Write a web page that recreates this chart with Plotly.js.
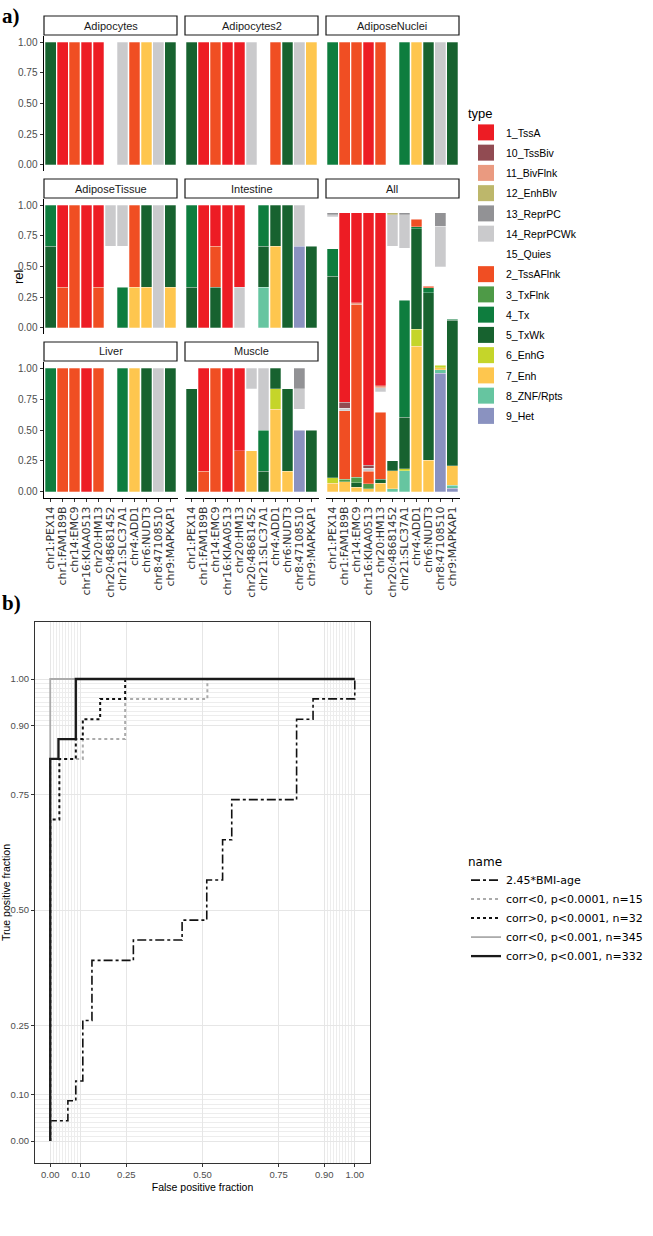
<!DOCTYPE html>
<html>
<head>
<meta charset="utf-8">
<script src="https://cdn.plot.ly/plotly-3.0.1.min.js"></script>
<style>
  html, body { margin: 0; padding: 0; background: #fff; }
  #chart { width: 653px; height: 1236px; }
</style>
</head>
<body>
<div id="chart"></div>
<script>
// ---- data ---------------------------------------------------------------
const CATEGORIES = ["chr1:PEX14", "chr1:FAM189B", "chr14:EMC9", "chr16:KIAA0513", "chr20:HM13",
  "chr20:48681452", "chr21:SLC37A1", "chr4:ADD1", "chr6:NUDT3", "chr8:47108510", "chr9:MAPKAP1"];

const TYPES = ["1_TssA", "10_TssBiv", "11_BivFlnk", "12_EnhBlv", "13_ReprPC", "14_ReprPCWk", "15_Quies",
  "2_TssAFlnk", "3_TxFlnk", "4_Tx", "5_TxWk", "6_EnhG", "7_Enh", "8_ZNF/Rpts", "9_Het"];
const TYPE_COLORS = ["#ED1C24", "#914B52", "#EA9A80", "#BDB76B", "#929295", "#CACACC", "#FFFFFF",
  "#F04E23", "#4E9A47", "#0E7D3E", "#17622F", "#C5D52A", "#FEC64E", "#66C5A0", "#8A92C0"];

const PANELS = ["Adipocytes", "Adipocytes2", "AdiposeNuclei", "AdiposeTissue", "Intestine", "All", "Liver", "Muscle"];

// one entry per category: chromatin state -> share of the bar
const adipocytes = [
  { "5_TxWk": 1 }, { "1_TssA": 1 }, { "2_TssAFlnk": 1 }, { "1_TssA": 1 }, { "1_TssA": 1 },
  { "15_Quies": 1 }, { "14_ReprPCWk": 1 }, { "2_TssAFlnk": 1 }, { "7_Enh": 1 }, { "14_ReprPCWk": 1 }, { "5_TxWk": 1 },
];
const adipocytes2 = [
  { "5_TxWk": 1 }, { "1_TssA": 1 }, { "2_TssAFlnk": 1 }, { "1_TssA": 1 }, { "1_TssA": 1 },
  { "14_ReprPCWk": 1 }, { "15_Quies": 1 }, { "2_TssAFlnk": 1 }, { "5_TxWk": 1 }, { "14_ReprPCWk": 1 }, { "7_Enh": 1 },
];
const adiposeNuclei = [
  { "4_Tx": 1 }, { "2_TssAFlnk": 1 }, { "2_TssAFlnk": 1 }, { "1_TssA": 1 }, { "2_TssAFlnk": 1 },
  { "15_Quies": 1 }, { "4_Tx": 1 }, { "7_Enh": 1 }, { "5_TxWk": 1 }, { "14_ReprPCWk": 1 }, { "5_TxWk": 1 },
];
const adiposeTissue = [
  { "4_Tx": 0.333, "5_TxWk": 0.667 },
  { "1_TssA": 0.667, "2_TssAFlnk": 0.333 },
  { "2_TssAFlnk": 1 },
  { "1_TssA": 1 },
  { "1_TssA": 0.667, "2_TssAFlnk": 0.333 },
  { "14_ReprPCWk": 0.333, "15_Quies": 0.667 },
  { "14_ReprPCWk": 0.333, "15_Quies": 0.333, "4_Tx": 0.333 },
  { "2_TssAFlnk": 0.667, "7_Enh": 0.333 },
  { "5_TxWk": 0.667, "7_Enh": 0.333 },
  { "14_ReprPCWk": 1 },
  { "5_TxWk": 0.667, "7_Enh": 0.333 },
];
const intestine = [
  { "4_Tx": 0.667, "5_TxWk": 0.333 },
  { "1_TssA": 1 },
  { "1_TssA": 0.333, "2_TssAFlnk": 0.333, "5_TxWk": 0.333 },
  { "1_TssA": 1 },
  { "1_TssA": 0.667, "14_ReprPCWk": 0.333 },
  { "15_Quies": 1 },
  { "4_Tx": 0.333, "5_TxWk": 0.333, "8_ZNF/Rpts": 0.333 },
  { "5_TxWk": 0.333, "7_Enh": 0.667 },
  { "5_TxWk": 1 },
  { "14_ReprPCWk": 0.333, "9_Het": 0.667 },
  { "15_Quies": 0.333, "5_TxWk": 0.667 },
];
const all = [
  { "13_ReprPC": 0.007, "14_ReprPCWk": 0.007, "15_Quies": 0.114, "4_Tx": 0.10, "5_TxWk": 0.722, "6_EnhG": 0.02, "7_Enh": 0.03 },
  { "1_TssA": 0.679, "10_TssBiv": 0.022, "14_ReprPCWk": 0.008, "2_TssAFlnk": 0.246, "3_TxFlnk": 0.01, "7_Enh": 0.035 },
  { "1_TssA": 0.323, "11_BivFlnk": 0.006, "2_TssAFlnk": 0.62, "3_TxFlnk": 0.02, "5_TxWk": 0.015, "7_Enh": 0.016 },
  { "1_TssA": 0.905, "10_TssBiv": 0.012, "14_ReprPCWk": 0.01, "2_TssAFlnk": 0.045, "3_TxFlnk": 0.018, "7_Enh": 0.01 },
  { "1_TssA": 0.621, "11_BivFlnk": 0.007, "14_ReprPCWk": 0.014, "15_Quies": 0.074, "2_TssAFlnk": 0.239, "5_TxWk": 0.015, "7_Enh": 0.03 },
  { "12_EnhBlv": 0.006, "14_ReprPCWk": 0.113, "15_Quies": 0.77, "5_TxWk": 0.036, "7_Enh": 0.065, "8_ZNF/Rpts": 0.01 },
  { "13_ReprPC": 0.006, "14_ReprPCWk": 0.121, "15_Quies": 0.187, "4_Tx": 0.419, "5_TxWk": 0.185, "6_EnhG": 0.008, "8_ZNF/Rpts": 0.074 },
  { "15_Quies": 0.023, "2_TssAFlnk": 0.026, "4_Tx": 0.007, "5_TxWk": 0.362, "6_EnhG": 0.06, "7_Enh": 0.522 },
  { "15_Quies": 0.263, "2_TssAFlnk": 0.005, "4_Tx": 0.019, "5_TxWk": 0.601, "7_Enh": 0.112 },
  { "13_ReprPC": 0.047, "14_ReprPCWk": 0.146, "15_Quies": 0.354, "6_EnhG": 0.008, "7_Enh": 0.007, "8_ZNF/Rpts": 0.014, "9_Het": 0.424 },
  { "15_Quies": 0.381, "4_Tx": 0.005, "5_TxWk": 0.522, "7_Enh": 0.07, "8_ZNF/Rpts": 0.01, "9_Het": 0.012 },
];
const liver = [
  { "4_Tx": 1 }, { "2_TssAFlnk": 1 }, { "2_TssAFlnk": 1 }, { "1_TssA": 1 }, { "2_TssAFlnk": 1 },
  { "15_Quies": 1 }, { "4_Tx": 1 }, { "7_Enh": 1 }, { "5_TxWk": 1 }, { "14_ReprPCWk": 1 }, { "5_TxWk": 1 },
];
const muscle = [
  { "15_Quies": 0.167, "5_TxWk": 0.833 },
  { "1_TssA": 0.833, "2_TssAFlnk": 0.167 },
  { "2_TssAFlnk": 1 },
  { "1_TssA": 1 },
  { "1_TssA": 0.667, "2_TssAFlnk": 0.333 },
  { "14_ReprPCWk": 0.167, "15_Quies": 0.5, "7_Enh": 0.333 },
  { "14_ReprPCWk": 0.5, "4_Tx": 0.333, "5_TxWk": 0.167 },
  { "5_TxWk": 0.167, "6_EnhG": 0.167, "7_Enh": 0.666 },
  { "15_Quies": 0.167, "5_TxWk": 0.667, "7_Enh": 0.166 },
  { "13_ReprPC": 0.167, "14_ReprPCWk": 0.167, "15_Quies": 0.166, "9_Het": 0.5 },
  { "15_Quies": 0.5, "5_TxWk": 0.5 },
];
const PANEL_DATA = [adipocytes, adipocytes2, adiposeNuclei, adiposeTissue, intestine, all, liver, muscle];

// ROC step corners (false positive fraction, true positive fraction)
const ROC_NAMES = ["2.45*BMI-age", "corr<0, p<0.0001, n=15", "corr>0, p<0.0001, n=32",
  "corr<0, p<0.001, n=345", "corr>0, p<0.001, n=332"];
const bmiFpf = [0, 0.058, 0.084, 0.107, 0.137, 0.273, 0.433, 0.514, 0.566, 0.596, 0.809, 0.863, 1, 1];
const bmiTpf = [0, 0.044, 0.087, 0.130, 0.261, 0.391, 0.435, 0.478, 0.565, 0.652, 0.739, 0.913, 0.957, 1];
const negStrictFpf = [0, 0.107, 0.246, 0.516, 1];
const negStrictTpf = [0, 0.827, 0.870, 0.957, 1];
const posStrictFpf = [0, 0.03, 0.084, 0.107, 0.164, 0.246, 1];
const posStrictTpf = [0, 0.696, 0.827, 0.870, 0.913, 0.957, 1];
const negFpf = [0, 1];
const negTpf = [0, 1];
const posFpf = [0, 0.027, 0.084, 1];
const posTpf = [0, 0.827, 0.870, 1];

const ROC_TICKS = [0, 0.1, 0.25, 0.5, 0.75, 0.9, 1];

// ---- layout helpers (pixel boxes -> paper) ---------------------------------
const W = 653, H = 1236;
const px = v => v / W;
const py = v => 1 - v / H;

const COLS = [[43.5, 177.5], [184.5, 318.5], [325.5, 459.5]];
const ROWS = [[36, 171], [199, 334], [362, 498]];
// panel -> [col, row top, row bottom]
const PANEL_POS = [[0, 0, 0], [1, 0, 0], [2, 0, 0], [0, 1, 1], [1, 1, 1], [2, 1, 2], [0, 2, 2], [1, 2, 2]];
const BOTTOM_ROW = [false, false, false, false, false, true, true, true];

const FONT = "Liberation Sans, Arial, sans-serif";
const AX_COLOR = "#333333";
const TXT_COLOR = "#4D4D4D";

const traces = [];
const layout = {
  width: W, height: H,
  margin: { l: 0, r: 0, t: 0, b: 0 },
  paper_bgcolor: "#fff", plot_bgcolor: "rgba(0,0,0,0)",
  font: { family: FONT, color: "#000", size: 11 },
  barmode: "stack", bargap: 0.1,
  shapes: [], annotations: [],
  legend: {
    x: px(466), y: py(101), xanchor: "left", yanchor: "top",
    traceorder: "grouped", tracegroupgap: 1.25,
    title: { text: "type", font: { family: FONT, size: 13 } },
    font: { family: FONT, size: 10.5 }, bgcolor: "rgba(0,0,0,0)",
  },
  legend2: {
    x: px(466), y: py(850), xanchor: "left", yanchor: "top",
    title: { text: "name", font: { family: "DejaVu Sans, sans-serif", size: 12 } },
    font: { family: "DejaVu Sans, sans-serif", size: 11 }, itemwidth: 30, bgcolor: "rgba(0,0,0,0)",
  },
};

// legend keys for the fill scale (bigger squares than plotly's bar swatch), in level order
TYPES.forEach((type, i) => {
  traces.push({
    type: "scatter", mode: "markers", x: [null], y: [null], xaxis: "x6", yaxis: "y6",
    name: type, legendgroup: type, legend: "legend", hoverinfo: "skip",
    marker: { symbol: "square", size: 16, color: TYPE_COLORS[i], line: { width: 0 } },
  });
});

// stacked bars: ggplot puts the first level on top, plotly stacks the first trace at the bottom
TYPES.slice().reverse().forEach(type => {
  const color = TYPE_COLORS[TYPES.indexOf(type)];
  PANELS.forEach((panel, p) => {
    const sfx = p ? String(p + 1) : "";
    traces.push({
      type: "bar", x: CATEGORIES,
      y: PANEL_DATA[p].map(seg => (seg[type] !== undefined ? seg[type] : null)),
      xaxis: "x" + sfx, yaxis: "y" + sfx,
      name: type, legendgroup: type, showlegend: false,
      marker: { color, line: { color: "rgba(255,255,255,0.55)", width: 0.5 } },
      hovertemplate: "%{x}<br>" + type + ": %{y:.3f}<extra>" + panel + "</extra>",
    });
  });
});

PANELS.forEach((panel, p) => {
  const sfx = p ? String(p + 1) : "";
  const [col, rTop, rBot] = PANEL_POS[p];
  const x0 = COLS[col][0], x1 = COLS[col][1];
  const y0 = ROWS[rTop][0], y1 = ROWS[rBot][1];
  const bottom = BOTTOM_ROW[p];
  const left = col === 0;
  layout["xaxis" + sfx] = {
    domain: [px(x0), px(x1)], anchor: "y" + sfx,
    type: "category", categoryorder: "array", categoryarray: CATEGORIES, range: [-0.6, 10.6],
    tickmode: "linear", tick0: 0, dtick: 1,
    showgrid: false, zeroline: false,
    showline: bottom, linecolor: "#000", linewidth: 1,
    showticklabels: bottom, tickangle: -90,
    ticks: bottom ? "outside" : "", ticklen: 3, tickcolor: AX_COLOR,
    tickfont: { family: "DejaVu Sans, sans-serif", size: 11, color: AX_COLOR },
  };
  layout["yaxis" + sfx] = {
    domain: [py(y1), py(y0)], anchor: "x" + sfx,
    range: panel === "All" ? [-0.023, 1.05] : [-0.05, 1.05],
    showgrid: false, zeroline: false,
    showline: left, linecolor: "#000", linewidth: 1,
    showticklabels: left, tickvals: [0, 0.25, 0.5, 0.75, 1], tickformat: ".2f",
    ticks: left ? "outside" : "", ticklen: 3, tickcolor: AX_COLOR,
    tickfont: { family: FONT, size: 10, color: TXT_COLOR },
  };
  // facet strip
  const sTop = y0 - 20, sBot = y0 - 1;
  layout.shapes.push({
    type: "rect", xref: "paper", yref: "paper",
    x0: px(x0 + 0.5), x1: px(x1 - 0.5), y0: py(sBot), y1: py(sTop),
    line: { color: "#1a1a1a", width: 1.2 }, fillcolor: "#fff",
  });
  layout.annotations.push({
    xref: "paper", yref: "paper", x: px((x0 + x1) / 2), y: py((sTop + sBot) / 2),
    text: panel, showarrow: false, xanchor: "center", yanchor: "middle",
    font: { family: FONT, size: 11, color: "#1a1a1a" },
  });
});

// ---- ROC panel ------------------------------------------------------------
const ROC_SERIES = [
  [bmiFpf, bmiTpf, { color: "#111", width: 1.6, dash: "dashdot" }],
  [negStrictFpf, negStrictTpf, { color: "#ababab", width: 2, dash: "dot" }],
  [posStrictFpf, posStrictTpf, { color: "#111", width: 2, dash: "dot" }],
  [negFpf, negTpf, { color: "#ababab", width: 1.8 }],
  [posFpf, posTpf, { color: "#1a1a1a", width: 2.3 }],
];
ROC_SERIES.forEach(([fx, ty, line], i) => {
  traces.push({
    type: "scatter", mode: "lines", x: fx, y: ty, xaxis: "x9", yaxis: "y9",
    name: ROC_NAMES[i], legend: "legend2",
    line: Object.assign({ shape: "vh" }, line),
  });
});

const minorVals = [];
for (let k = 1; k < 10; k++) { minorVals.push(k / 100); minorVals.push(0.9 + k / 100); }
const rocAxis = (domain, anchor, range) => ({
  domain, anchor, range,
  tickvals: ROC_TICKS, tickformat: ".2f",
  ticks: "outside", ticklen: 3, tickcolor: AX_COLOR,
  tickfont: { family: FONT, size: 9.5, color: TXT_COLOR },
  showline: true, mirror: true, linecolor: AX_COLOR, linewidth: 1,
  showgrid: true, gridcolor: "#E6E6E6", gridwidth: 1, zeroline: false,
  minor: { tickvals: minorVals, showgrid: true, gridcolor: "#EDEDED", gridwidth: 0.6, ticks: "" },
});
layout.xaxis9 = Object.assign(rocAxis([px(35), px(370)], "y9", [-0.05, 1.05]), {
  title: { text: "False positive fraction", font: { family: FONT, size: 10.5, color: "#000" }, standoff: 4 },
});
layout.yaxis9 = Object.assign(rocAxis([py(1163), py(622)], "x9", [-0.0476, 1.1234]), {
  title: { text: "True positive fraction", font: { family: FONT, size: 10.5, color: "#000" }, standoff: 6 },
});

// labels
layout.annotations.push(
  { xref: "paper", yref: "paper", x: px(9), y: py(267), text: "rel", textangle: -90, showarrow: false,
    font: { family: FONT, size: 13 } },
  { xref: "paper", yref: "paper", x: 0, y: py(2), xanchor: "left", yanchor: "top", text: "<b>a)</b>",
    showarrow: false, font: { family: "Liberation Serif, serif", size: 21, color: "#000" } },
  { xref: "paper", yref: "paper", x: 0, y: py(589), xanchor: "left", yanchor: "top", text: "<b>b)</b>",
    showarrow: false, font: { family: "Liberation Serif, serif", size: 21, color: "#000" } },
);

Plotly.newPlot("chart", traces, layout, { displayModeBar: false, responsive: false });
</script>
</body>
</html>
